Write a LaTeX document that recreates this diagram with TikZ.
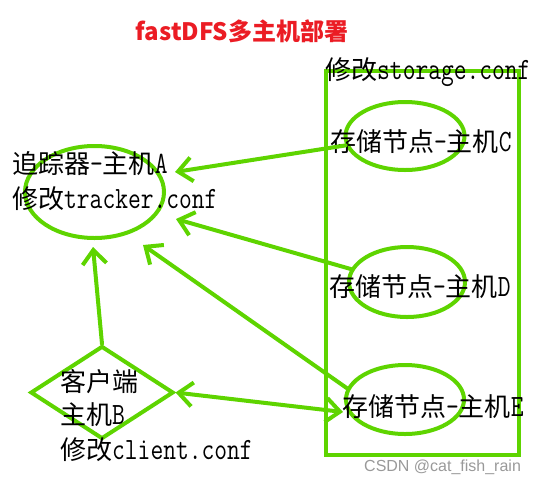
\documentclass[tikz,border=0pt]{standalone}
\usepackage{fontspec}
\usetikzlibrary{arrows.meta,shapes.geometric}
\newfontfamily\cjk{Noto Sans CJK SC}
\newfontfamily\monofnt[FakeStretch=0.8]{Latin Modern Mono}
\newfontfamily\wmfont{Liberation Sans}
\newcommand\latpart[1]{{\monofnt\fontsize{31}{34}\selectfont #1}}
\definecolor{grn}{RGB}{94,212,0}
\definecolor{ttl}{RGB}{235,28,36}
\begin{document}
\begin{tikzpicture}[x=1pt,y=-1pt,
  lbl/.style={anchor=base west, inner sep=0, font=\cjk\fontsize{26}{30}\selectfont},
  oval/.style={draw=grn, line width=4pt, ellipse, inner sep=0},
  arr/.style={draw=grn, line width=4pt, line cap=round, line join=round,
    -{Straight Barb[length=14pt,width=24pt]}},
  darr/.style={draw=grn, line width=4pt, line cap=round, line join=round,
    {Straight Barb[length=14pt,width=24pt]}-{Straight Barb[length=14pt,width=24pt]}}
]
\useasboundingbox (0,0) rectangle (556,485);
% title
\node[text=ttl, inner sep=0, font=\cjk\bfseries\fontsize{24}{28}\selectfont] (title) at (242,31) {fastDFS多主机部署};
% storage box
\node[draw=grn, line width=4pt, minimum width=193pt, minimum height=384pt, inner sep=0] (box) at (422.5,263) {};
% ellipses
\node[oval, minimum width=139pt, minimum height=92pt] (A) at (94.5,192) {};
\node[oval, minimum width=119pt, minimum height=68pt] (C) at (405,136) {};
\node[oval, minimum width=116pt, minimum height=70pt] (D) at (407,282) {};
\node[oval, minimum width=118pt, minimum height=69pt] (E) at (405,399.5) {};
% diamond
\node[draw=grn, line width=4pt, diamond, minimum width=143pt, minimum height=93pt, inner sep=0] (B) at (102,392.5) {};
% labels
\node[lbl] (tS) at (325,79) {修改\latpart{storage.conf}};
\node[lbl] (tC) at (330,151) {存储节点\latpart{-}主机\latpart{C}};
\node[lbl] (tD) at (329,296) {存储节点\latpart{-}主机\latpart{D}};
\node[lbl] (tE) at (342,416) {存储节点\latpart{-}主机\latpart{E}};
\node[lbl] (tA1) at (12,173) {追踪器\latpart{-}主机\latpart{A}};
\node[lbl] (tA2) at (12,208) {修改\latpart{tracker.conf}};
\node[lbl] (tB1) at (60,391) {客户端};
\node[lbl] (tB2) at (60,424) {主机\latpart{B}};
\node[lbl] (tB3) at (60,459) {修改\latpart{client.conf}};
% watermark
\node[anchor=west, inner sep=0, text=black!40, font=\wmfont\fontsize{16}{18}\selectfont] (wm) at (364,467) {CSDN @cat\_fish\_rain};
% arrow tips
\coordinate (pC) at (175,172);
\coordinate (pD) at (176,219);
\coordinate (pE) at (143,245);
\coordinate (pB) at (93,247);
\coordinate (pEB) at (343,412);
% connectors
\draw[arr] (C.189) -- (pC);
\draw[arr] (D.167) -- (pD);
\draw[arr] (E.169) -- (pE);
\draw[arr] (B.north) -- (pB);
\draw[darr] (B.east) -- (pEB);
\end{tikzpicture}
\end{document}
